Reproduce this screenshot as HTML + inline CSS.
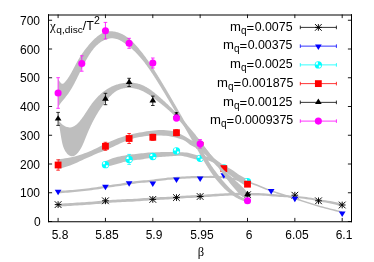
<!DOCTYPE html>
<html><head><meta charset="utf-8"><title>plot</title>
<style>
html,body{margin:0;padding:0;background:#fff}
body{width:374px;height:262px;position:relative;overflow:hidden;font-family:"Liberation Sans",sans-serif}
.t{position:absolute;will-change:transform;font-size:12px;line-height:14px;color:#000;white-space:nowrap}
.sub{font-size:9.6px;position:relative;top:3.6px;line-height:0}
.sup{font-size:9.6px;position:relative;top:-6px;line-height:0}
.pre{font-size:13.1px;margin-right:0.5px}
.pre .sub{font-size:10px;top:2.6px}
.eq{position:relative;top:1.2px}
.dig{font-size:12.4px}
.sy{font-family:"Liberation Serif",serif;font-size:12.5px}
</style></head><body>
<svg width="374" height="262" viewBox="0 0 374 262" style="position:absolute;left:0;top:0">
<rect width="374" height="262" fill="#fff"/>
<defs><clipPath id="cp"><rect x="48.5" y="14.5" width="303.0" height="207.0"/></clipPath></defs>
<polygon points="58.10,203.75 60.49,203.62 62.87,203.48 65.26,203.34 67.65,203.20 70.04,203.05 72.42,202.90 74.81,202.75 77.20,202.60 79.59,202.45 81.97,202.29 84.36,202.14 86.75,201.98 89.14,201.82 91.52,201.65 93.91,201.47 96.30,201.28 98.69,201.06 101.07,200.82 103.46,200.57 105.85,200.35 108.24,200.17 110.62,200.00 113.01,199.84 115.40,199.69 117.78,199.55 120.17,199.42 122.56,199.30 124.95,199.20 127.33,199.11 129.72,199.01 132.11,198.90 134.50,198.78 136.88,198.63 139.27,198.46 141.66,198.29 144.05,198.10 146.43,197.92 148.82,197.75 151.21,197.59 153.60,197.45 155.98,197.33 158.37,197.22 160.76,197.11 163.15,197.01 165.53,196.90 167.92,196.78 170.31,196.66 172.69,196.51 175.08,196.34 177.47,196.15 179.86,195.96 182.24,195.78 184.63,195.63 187.02,195.50 189.41,195.38 191.79,195.27 194.18,195.17 196.57,195.07 198.96,194.95 201.34,194.82 203.73,194.67 206.12,194.50 208.51,194.34 210.89,194.17 213.28,194.00 215.67,193.85 218.06,193.70 220.44,193.58 222.83,193.46 225.22,193.33 227.61,193.21 229.99,193.09 232.38,192.99 234.77,192.90 237.15,192.84 239.54,192.80 241.93,192.80 244.32,192.81 246.70,192.83 249.09,192.87 251.48,192.92 253.87,192.98 256.25,193.04 258.64,193.10 261.03,193.20 263.42,193.35 265.80,193.52 268.19,193.71 270.58,193.91 272.97,194.12 275.35,194.32 277.74,194.51 280.13,194.69 282.52,194.87 284.90,195.05 287.29,195.24 289.68,195.43 292.06,195.63 294.45,195.85 296.84,196.08 299.23,196.32 301.61,196.56 304.00,196.82 306.39,197.10 308.78,197.40 311.16,197.75 313.55,198.19 315.94,198.67 318.33,199.13 320.71,199.53 323.10,199.92 325.49,200.30 327.88,200.70 330.26,201.12 332.65,201.57 335.04,202.02 337.43,202.50 339.81,202.99 342.20,203.50 342.20,206.30 339.81,205.73 337.43,205.17 335.04,204.62 332.65,204.09 330.26,203.58 327.88,203.09 325.49,202.62 323.10,202.17 320.71,201.71 318.33,201.24 315.94,200.76 313.55,200.26 311.16,199.81 308.78,199.45 306.39,199.13 304.00,198.84 301.61,198.57 299.23,198.33 296.84,198.11 294.45,197.91 292.06,197.71 289.68,197.53 287.29,197.37 284.90,197.20 282.52,197.05 280.13,196.89 277.74,196.74 275.35,196.57 272.97,196.39 270.58,196.21 268.19,196.03 265.80,195.86 263.42,195.71 261.03,195.59 258.64,195.51 256.25,195.45 253.87,195.40 251.48,195.35 249.09,195.31 246.70,195.28 244.32,195.26 241.93,195.26 239.54,195.27 237.15,195.31 234.77,195.38 232.38,195.48 229.99,195.59 227.61,195.71 225.22,195.85 222.83,195.98 220.44,196.11 218.06,196.24 215.67,196.39 213.28,196.56 210.89,196.73 208.51,196.91 206.12,197.08 203.73,197.26 201.34,197.42 198.96,197.56 196.57,197.67 194.18,197.78 191.79,197.89 189.41,198.00 187.02,198.12 184.63,198.26 182.24,198.42 179.86,198.61 177.47,198.80 175.08,198.99 172.69,199.17 170.31,199.32 167.92,199.45 165.53,199.57 163.15,199.68 160.76,199.79 158.37,199.90 155.98,200.02 153.60,200.15 151.21,200.29 148.82,200.45 146.43,200.63 144.05,200.82 141.66,201.01 139.27,201.19 136.88,201.36 134.50,201.52 132.11,201.65 129.72,201.76 127.33,201.86 124.95,201.96 122.56,202.07 120.17,202.19 117.78,202.32 115.40,202.47 113.01,202.62 110.62,202.79 108.24,202.96 105.85,203.15 103.46,203.38 101.07,203.63 98.69,203.88 96.30,204.10 93.91,204.29 91.52,204.47 89.14,204.65 86.75,204.82 84.36,204.98 81.97,205.14 79.59,205.30 77.20,205.46 74.81,205.62 72.42,205.77 70.04,205.93 67.65,206.08 65.26,206.22 62.87,206.37 60.49,206.51 58.10,206.65" fill="#bebebe"/>

<path d="M54.75 204.60H61.45M58.10 201.25V207.95M54.75 201.25L61.45 207.95M54.75 207.95L61.45 201.25" stroke="#000" stroke-width="0.95" fill="none"/>

<path d="M102.10 200.80H108.80M105.45 197.45V204.15M102.10 197.45L108.80 204.15M102.10 204.15L108.80 197.45" stroke="#000" stroke-width="0.95" fill="none"/>

<path d="M149.45 199.40H156.15M152.80 196.05V202.75M149.45 196.05L156.15 202.75M149.45 202.75L156.15 196.05" stroke="#000" stroke-width="0.95" fill="none"/>

<path d="M173.12 197.60H179.82M176.47 194.25V200.95M173.12 194.25L179.82 200.95M173.12 200.95L179.82 194.25" stroke="#000" stroke-width="0.95" fill="none"/>

<path d="M196.80 196.50H203.50M200.15 193.15V199.85M196.80 193.15L203.50 199.85M196.80 199.85L203.50 193.15" stroke="#000" stroke-width="0.95" fill="none"/>

<path d="M244.15 194.70H250.85M247.50 191.35V198.05M244.15 191.35L250.85 198.05M244.15 198.05L250.85 191.35" stroke="#000" stroke-width="0.95" fill="none"/>

<path d="M291.50 195.20H298.20M294.85 191.85V198.55M291.50 191.85L298.20 198.55M291.50 198.55L298.20 191.85" stroke="#000" stroke-width="0.95" fill="none"/>

<path d="M315.18 200.80H321.88M318.53 197.45V204.15M315.18 197.45L321.88 204.15M315.18 204.15L321.88 197.45" stroke="#000" stroke-width="0.95" fill="none"/>

<path d="M338.85 205.00H345.55M342.20 201.65V208.35M338.85 201.65L345.55 208.35M338.85 208.35L345.55 201.65" stroke="#000" stroke-width="0.95" fill="none"/>
<polygon points="58.10,190.90 60.49,190.77 62.87,190.62 65.26,190.46 67.65,190.29 70.04,190.10 72.42,189.90 74.81,189.69 77.20,189.47 79.59,189.24 81.97,188.99 84.36,188.72 86.75,188.43 89.14,188.13 91.52,187.81 93.91,187.48 96.30,187.14 98.69,186.79 101.07,186.39 103.46,185.99 105.85,185.60 108.24,185.26 110.62,184.93 113.01,184.61 115.40,184.30 117.78,183.97 120.17,183.63 122.56,183.25 124.95,182.84 127.33,182.43 129.72,182.03 132.11,181.66 134.50,181.35 136.88,181.07 139.27,180.82 141.66,180.58 144.05,180.36 146.43,180.13 148.82,179.90 151.21,179.66 153.60,179.40 155.98,179.11 158.37,178.80 160.76,178.49 163.15,178.19 165.53,177.89 167.92,177.62 170.31,177.39 172.69,177.19 175.08,177.01 177.47,176.84 179.86,176.68 182.24,176.55 184.63,176.43 187.02,176.32 189.41,176.21 191.79,176.10 194.18,176.01 196.57,175.94 198.96,175.90 201.34,175.90 203.73,175.89 206.12,175.88 208.51,175.88 210.89,175.87 213.28,175.88 215.67,175.93 218.06,176.04 220.44,176.19 222.83,176.35 225.22,176.55 227.61,176.85 229.99,177.24 232.38,177.69 234.77,178.16 237.15,178.64 239.54,179.16 241.93,179.71 244.32,180.31 246.70,180.94 249.09,181.62 251.48,182.34 253.87,183.15 256.25,184.04 258.64,184.98 261.03,185.97 263.42,186.96 265.80,187.95 268.19,188.91 270.58,189.81 272.97,190.64 275.35,191.45 277.74,192.24 280.13,193.01 282.52,193.76 284.90,194.51 287.29,195.25 289.68,196.00 292.06,196.75 294.45,197.51 296.84,198.29 299.23,199.08 301.61,199.88 304.00,200.68 306.39,201.48 308.78,202.27 311.16,203.04 313.55,203.80 315.94,204.52 318.33,205.21 320.71,205.88 323.10,206.54 325.49,207.18 327.88,207.81 330.26,208.43 332.65,209.03 335.04,209.61 337.43,210.17 339.81,210.72 342.20,211.25 342.20,212.75 339.81,212.23 337.43,211.68 335.04,211.13 332.65,210.55 330.26,209.96 327.88,209.35 325.49,208.72 323.10,208.09 320.71,207.44 318.33,206.77 315.94,206.08 313.55,205.37 311.16,204.62 308.78,203.85 306.39,203.07 304.00,202.28 301.61,201.48 299.23,200.68 296.84,199.90 294.45,199.13 292.06,198.37 289.68,197.63 287.29,196.89 284.90,196.15 282.52,195.41 280.13,194.66 277.74,193.89 275.35,193.11 272.97,192.31 270.58,191.48 268.19,190.59 265.80,189.64 263.42,188.66 261.03,187.66 258.64,186.69 256.25,185.77 253.87,184.90 251.48,184.11 249.09,183.41 246.70,182.75 244.32,182.14 241.93,181.56 239.54,181.03 237.15,180.53 234.77,180.08 232.38,179.62 229.99,179.19 227.61,178.82 225.22,178.54 222.83,178.36 220.44,178.22 218.06,178.09 215.67,178.00 213.28,177.97 210.89,177.98 208.51,178.01 206.12,178.03 203.73,178.06 201.34,178.09 198.96,178.11 196.57,178.15 194.18,178.22 191.79,178.31 189.41,178.42 187.02,178.54 184.63,178.65 182.24,178.77 179.86,178.91 177.47,179.07 175.08,179.24 172.69,179.43 170.31,179.63 167.92,179.87 165.53,180.14 163.15,180.44 160.76,180.75 158.37,181.06 155.98,181.37 153.60,181.66 151.21,181.93 148.82,182.18 146.43,182.41 144.05,182.64 141.66,182.87 139.27,183.10 136.88,183.36 134.50,183.64 132.11,183.96 129.72,184.33 127.33,184.73 124.95,185.15 122.56,185.56 120.17,185.94 117.78,186.29 115.40,186.62 113.01,186.94 110.62,187.26 108.24,187.59 105.85,187.94 103.46,188.32 101.07,188.73 98.69,189.13 96.30,189.49 93.91,189.83 91.52,190.16 89.14,190.48 86.75,190.79 84.36,191.08 81.97,191.36 79.59,191.61 77.20,191.84 74.81,192.06 72.42,192.28 70.04,192.48 67.65,192.67 65.26,192.85 62.87,193.02 60.49,193.17 58.10,193.30" fill="#bebebe"/>

<path d="M54.75 189.84L61.45 189.84L58.10 195.35Z" fill="#0000ff"/>

<path d="M102.10 184.74L108.80 184.74L105.45 190.25Z" fill="#0000ff"/>

<path d="M125.78 181.34L132.48 181.34L129.13 186.85Z" fill="#0000ff"/>

<path d="M149.45 181.44L156.15 181.44L152.80 186.95Z" fill="#0000ff"/>

<path d="M173.12 177.44L179.82 177.44L176.47 182.95Z" fill="#0000ff"/>

<path d="M196.80 176.44L203.50 176.44L200.15 181.95Z" fill="#0000ff"/>

<path d="M220.47 173.24L227.17 173.24L223.82 178.75Z" fill="#0000ff"/>

<path d="M244.15 181.24L250.85 181.24L247.50 186.75Z" fill="#0000ff"/>

<path d="M267.83 188.94L274.53 188.94L271.18 194.45Z" fill="#0000ff"/>

<path d="M291.50 196.84L298.20 196.84L294.85 202.35Z" fill="#0000ff"/>

<path d="M338.85 211.44L345.55 211.44L342.20 216.95Z" fill="#0000ff"/>
<polygon points="105.30,161.30 107.10,160.46 108.90,159.69 110.70,158.98 112.50,158.35 114.30,157.79 116.10,157.31 117.90,156.87 119.70,156.47 121.50,156.07 123.30,155.70 125.10,155.38 126.90,155.10 128.70,154.84 130.50,154.60 132.30,154.37 134.10,154.15 135.90,153.94 137.70,153.75 139.50,153.55 141.30,153.35 143.10,153.13 144.90,152.91 146.70,152.73 148.50,152.59 150.30,152.51 152.10,152.44 153.90,152.38 155.70,152.33 157.50,152.27 159.30,152.21 161.10,152.12 162.90,152.02 164.70,152.00 166.50,152.00 168.30,152.00 170.10,152.00 171.90,152.00 173.70,152.02 175.50,152.06 177.30,152.12 179.10,152.17 180.90,152.23 182.70,152.31 184.50,152.41 186.30,152.56 188.10,152.86 189.90,153.27 191.70,153.70 193.50,154.23 195.30,154.75 197.10,155.20 198.90,155.60 200.70,155.90 202.50,156.12 204.30,156.34 206.10,156.53 207.90,156.76 209.70,157.15 211.50,157.86 213.30,158.74 215.10,159.72 216.90,160.93 218.70,162.20 220.50,163.42 222.30,164.66 224.10,165.87 225.90,167.01 227.70,168.10 229.50,169.19 231.30,170.33 233.10,171.50 234.90,172.64 236.70,173.70 238.50,174.67 240.30,175.60 242.10,176.55 243.90,177.53 245.70,178.51 247.50,179.50 247.50,182.80 245.70,182.01 243.90,181.19 242.10,180.35 240.30,179.49 238.50,178.61 236.70,177.68 234.90,176.66 233.10,175.53 231.30,174.35 229.50,173.18 227.70,172.02 225.90,170.85 224.10,169.67 222.30,168.45 220.50,167.22 218.70,166.00 216.90,164.73 215.10,163.52 213.30,162.54 211.50,161.64 209.70,160.94 207.90,160.58 206.10,160.39 204.30,160.23 202.50,160.05 200.70,159.87 198.90,159.69 197.10,159.51 195.30,159.27 193.50,158.81 191.70,158.23 189.90,157.73 188.10,157.26 186.30,156.83 184.50,156.43 182.70,156.03 180.90,155.75 179.10,155.71 177.30,155.77 175.50,155.88 173.70,156.01 171.90,156.15 170.10,156.27 168.30,156.39 166.50,156.52 164.70,156.65 162.90,156.77 161.10,156.88 159.30,157.02 157.50,157.18 155.70,157.37 153.90,157.58 152.10,157.81 150.30,158.05 148.50,158.29 146.70,158.55 144.90,158.84 143.10,159.14 141.30,159.42 139.50,159.66 137.70,159.86 135.90,160.05 134.10,160.25 132.30,160.48 130.50,160.73 128.70,161.00 126.90,161.31 125.10,161.65 123.30,162.08 121.50,162.63 119.70,163.19 117.90,163.70 116.10,164.21 114.30,164.71 112.50,165.19 110.70,165.66 108.90,166.12 107.10,166.57 105.30,167.00" fill="#bebebe"/>
<path d="M105.45 163.20V166.20M103.65 163.20H107.25M103.65 166.20H107.25" stroke="#00ffff" stroke-width="0.80" fill="none"/>
<circle cx="105.45" cy="164.70" r="3.65" fill="#00ffff"/><path d="M104.95 164.20L102.60 164.20A2.35 2.35 0 0 1 104.95 161.85Z" fill="#fff"/><path d="M105.95 165.20L108.30 165.20A2.35 2.35 0 0 1 105.95 167.55Z" fill="#fff"/>
<path d="M129.13 154.40V164.40M127.33 154.40H130.93M127.33 164.40H130.93" stroke="#00ffff" stroke-width="0.80" fill="none"/>
<circle cx="129.13" cy="159.40" r="3.65" fill="#00ffff"/><path d="M128.63 158.90L126.28 158.90A2.35 2.35 0 0 1 128.63 156.55Z" fill="#fff"/><path d="M129.63 159.90L131.98 159.90A2.35 2.35 0 0 1 129.63 162.25Z" fill="#fff"/>
<path d="M152.80 155.00V158.00M151.00 155.00H154.60M151.00 158.00H154.60" stroke="#00ffff" stroke-width="0.80" fill="none"/>
<circle cx="152.80" cy="156.50" r="3.65" fill="#00ffff"/><path d="M152.30 156.00L149.95 156.00A2.35 2.35 0 0 1 152.30 153.65Z" fill="#fff"/><path d="M153.30 157.00L155.65 157.00A2.35 2.35 0 0 1 153.30 159.35Z" fill="#fff"/>
<path d="M176.47 149.40V152.40M174.67 149.40H178.28M174.67 152.40H178.28" stroke="#00ffff" stroke-width="0.80" fill="none"/>
<circle cx="176.47" cy="150.90" r="3.65" fill="#00ffff"/><path d="M175.97 150.40L173.62 150.40A2.35 2.35 0 0 1 175.97 148.05Z" fill="#fff"/><path d="M176.97 151.40L179.32 151.40A2.35 2.35 0 0 1 176.97 153.75Z" fill="#fff"/>
<path d="M200.15 156.80V159.80M198.35 156.80H201.95M198.35 159.80H201.95" stroke="#00ffff" stroke-width="0.80" fill="none"/>
<circle cx="200.15" cy="158.30" r="3.65" fill="#00ffff"/><path d="M199.65 157.80L197.30 157.80A2.35 2.35 0 0 1 199.65 155.45Z" fill="#fff"/><path d="M200.65 158.80L203.00 158.80A2.35 2.35 0 0 1 200.65 161.15Z" fill="#fff"/>
<path d="M223.82 166.30V169.30M222.02 166.30H225.62M222.02 169.30H225.62" stroke="#00ffff" stroke-width="0.80" fill="none"/>
<circle cx="223.82" cy="167.80" r="3.65" fill="#00ffff"/><path d="M223.32 167.30L220.97 167.30A2.35 2.35 0 0 1 223.32 164.95Z" fill="#fff"/><path d="M224.32 168.30L226.67 168.30A2.35 2.35 0 0 1 224.32 170.65Z" fill="#fff"/>
<path d="M247.50 180.60V182.60M245.70 180.60H249.30M245.70 182.60H249.30" stroke="#00ffff" stroke-width="0.80" fill="none"/>
<circle cx="247.50" cy="181.60" r="3.65" fill="#00ffff"/><path d="M247.00 181.10L244.65 181.10A2.35 2.35 0 0 1 247.00 178.75Z" fill="#fff"/><path d="M248.00 182.10L250.35 182.10A2.35 2.35 0 0 1 248.00 184.45Z" fill="#fff"/>
<polygon points="58.10,159.30 60.50,159.05 62.89,158.73 65.29,158.37 67.69,157.98 70.09,157.54 72.48,157.04 74.88,156.47 77.28,155.83 79.68,155.12 82.07,154.28 84.47,153.37 86.87,152.41 89.27,151.44 91.66,150.42 94.06,149.36 96.46,148.26 98.86,147.10 101.25,145.86 103.65,144.62 106.05,143.42 108.45,142.29 110.84,141.19 113.24,140.15 115.64,139.19 118.04,138.29 120.43,137.45 122.83,136.67 125.23,135.97 127.63,135.35 130.02,134.73 132.42,134.10 134.82,133.56 137.22,133.07 139.61,132.61 142.01,132.19 144.41,131.78 146.81,131.36 149.20,130.98 151.60,130.68 154.00,130.46 156.40,130.25 158.79,130.09 161.19,130.00 163.59,130.04 165.99,130.23 168.38,130.51 170.78,130.85 173.18,131.35 175.58,132.13 177.97,133.05 180.37,134.07 182.77,135.29 185.17,136.59 187.56,137.99 189.96,139.42 192.36,140.71 194.76,141.89 197.15,143.06 199.55,144.25 201.95,145.64 204.35,147.31 206.74,149.76 209.14,152.66 211.54,155.43 213.94,157.90 216.33,159.97 218.73,161.82 221.13,163.48 223.53,164.96 225.92,166.34 228.32,167.74 230.72,169.12 233.12,170.57 235.51,172.14 237.91,173.91 240.31,176.20 242.71,178.47 245.10,180.01 247.50,181.00 247.50,186.80 245.10,185.38 242.71,183.95 240.31,182.50 237.91,181.06 235.51,179.41 233.12,177.59 230.72,175.74 228.32,173.93 225.92,172.22 223.53,170.43 221.13,168.46 218.73,166.39 216.33,164.21 213.94,162.04 211.54,159.87 209.14,157.70 206.74,155.49 204.35,153.46 201.95,151.76 199.55,150.21 197.15,148.75 194.76,147.36 192.36,146.11 189.96,144.70 187.56,142.70 185.17,140.89 182.77,139.80 180.37,138.95 177.97,138.21 175.58,137.50 173.18,136.88 170.78,136.45 168.38,136.12 165.99,135.84 163.59,135.65 161.19,135.60 158.79,135.60 156.40,135.60 154.00,135.60 151.60,135.61 149.20,135.75 146.81,136.01 144.41,136.33 142.01,136.65 139.61,137.06 137.22,137.56 134.82,138.12 132.42,138.75 130.02,139.51 127.63,140.36 125.23,141.28 122.83,142.24 120.43,143.30 118.04,144.40 115.64,145.54 113.24,146.67 110.84,147.81 108.45,148.95 106.05,150.02 103.65,151.01 101.25,151.94 98.86,152.87 96.46,153.84 94.06,154.86 91.66,155.91 89.27,156.97 86.87,158.04 84.47,159.12 82.07,160.21 79.68,161.30 77.28,162.44 74.88,163.57 72.48,164.61 70.09,165.51 67.69,166.34 65.29,167.11 62.89,167.83 60.50,168.49 58.10,169.10" fill="#bebebe"/>
<path d="M58.10 159.80V170.20M56.30 159.80H59.90M56.30 170.20H59.90" stroke="#ff0000" stroke-width="0.80" fill="none"/>
<rect x="54.70" y="161.60" width="6.80" height="6.80" fill="#ff0000"/>
<path d="M105.45 142.30V150.30M103.65 142.30H107.25M103.65 150.30H107.25" stroke="#ff0000" stroke-width="0.80" fill="none"/>
<rect x="102.05" y="142.90" width="6.80" height="6.80" fill="#ff0000"/>
<path d="M129.13 133.50V143.50M127.33 133.50H130.93M127.33 143.50H130.93" stroke="#ff0000" stroke-width="0.80" fill="none"/>
<rect x="125.73" y="135.10" width="6.80" height="6.80" fill="#ff0000"/>
<path d="M152.80 134.30V140.30M151.00 134.30H154.60M151.00 140.30H154.60" stroke="#ff0000" stroke-width="0.80" fill="none"/>
<rect x="149.40" y="133.90" width="6.80" height="6.80" fill="#ff0000"/>
<path d="M176.47 129.70V135.70M174.67 129.70H178.28M174.67 135.70H178.28" stroke="#ff0000" stroke-width="0.80" fill="none"/>
<rect x="173.07" y="129.30" width="6.80" height="6.80" fill="#ff0000"/>
<path d="M200.15 142.80V147.80M198.35 142.80H201.95M198.35 147.80H201.95" stroke="#ff0000" stroke-width="0.80" fill="none"/>
<rect x="196.75" y="141.90" width="6.80" height="6.80" fill="#ff0000"/>
<path d="M223.82 166.60V170.60M222.02 166.60H225.62M222.02 170.60H225.62" stroke="#ff0000" stroke-width="0.80" fill="none"/>
<rect x="220.42" y="165.20" width="6.80" height="6.80" fill="#ff0000"/>
<path d="M247.50 182.70V185.70M245.70 182.70H249.30M245.70 185.70H249.30" stroke="#ff0000" stroke-width="0.80" fill="none"/>
<rect x="244.10" y="180.80" width="6.80" height="6.80" fill="#ff0000"/>
<polygon points="58.50,120.20 58.84,120.75 59.21,121.28 59.62,121.81 60.05,122.33 60.51,122.83 61.00,123.32 61.51,123.79 62.04,124.25 62.59,124.68 63.16,125.08 63.74,125.47 64.34,125.82 64.94,126.14 65.56,126.44 66.18,126.69 66.80,126.92 67.43,127.10 68.06,127.25 68.68,127.35 69.30,127.41 69.91,127.43 70.52,127.39 71.11,127.31 71.70,127.19 72.28,127.02 72.85,126.81 73.41,126.56 73.96,126.28 74.50,125.97 75.04,125.62 75.56,125.24 76.08,124.84 76.59,124.41 77.09,123.96 77.58,123.49 78.07,123.00 78.54,122.50 79.01,121.98 79.47,121.45 79.92,120.91 80.37,120.36 80.81,119.81 81.23,119.25 81.66,118.70 82.07,118.14 82.48,117.57 82.88,117.01 83.28,116.44 83.67,115.88 84.06,115.31 84.44,114.74 84.82,114.17 85.20,113.61 85.57,113.04 85.95,112.47 86.31,111.90 86.68,111.33 87.05,110.76 87.42,110.20 87.78,109.63 88.15,109.07 88.52,108.51 88.88,107.95 89.25,107.39 89.62,106.83 90.00,106.28 90.38,105.73 90.76,105.18 91.14,104.64 91.53,104.10 91.92,103.56 92.32,103.03 92.73,102.50 93.13,101.97 93.55,101.45 93.96,100.94 94.39,100.43 94.82,99.92 95.25,99.42 95.69,98.92 96.13,98.43 96.58,97.94 97.03,97.46 97.49,96.98 97.95,96.51 98.42,96.04 98.90,95.58 99.38,95.13 99.86,94.68 100.35,94.24 100.84,93.80 101.34,93.37 101.84,92.95 102.35,92.53 102.87,92.12 103.38,91.72 103.91,91.32 104.44,90.93 104.97,90.55 105.51,90.18 106.06,89.81 106.60,89.45 107.16,89.10 107.72,88.75 108.28,88.42 108.85,88.09 109.43,87.77 110.01,87.46 110.59,87.16 111.18,86.86 111.78,86.58 112.38,86.30 112.98,86.03 113.59,85.77 114.21,85.52 114.83,85.28 115.46,85.05 116.09,84.83 116.72,84.62 117.37,84.42 118.01,84.22 118.66,84.04 119.32,83.87 119.98,83.71 120.65,83.56 121.32,83.42 122.00,83.29 122.68,83.17 123.36,83.06 124.05,82.97 124.74,82.88 125.43,82.81 126.12,82.74 126.81,82.69 127.50,82.65 128.20,82.63 128.89,82.61 129.59,82.61 130.28,82.62 130.97,82.64 131.65,82.67 132.34,82.72 133.02,82.78 133.70,82.85 134.38,82.94 135.05,83.04 135.72,83.15 136.38,83.27 137.03,83.41 137.68,83.57 138.32,83.73 138.96,83.91 139.59,84.11 140.22,84.31 140.83,84.53 141.45,84.76 142.05,85.00 142.66,85.26 143.25,85.52 143.84,85.80 144.43,86.08 145.01,86.38 145.59,86.69 146.16,87.00 146.73,87.33 147.29,87.66 147.85,88.00 148.41,88.35 148.96,88.71 149.50,89.07 150.05,89.44 150.59,89.82 151.13,90.20 151.66,90.59 152.20,90.99 152.73,91.39 153.25,91.79 153.78,92.20 154.30,92.62 154.82,93.03 155.34,93.46 155.85,93.88 156.37,94.31 156.88,94.74 157.39,95.17 157.90,95.60 158.41,96.04 158.92,96.47 159.43,96.91 159.93,97.35 160.44,97.79 160.94,98.23 161.45,98.67 161.95,99.12 162.45,99.56 162.95,100.01 163.45,100.46 163.94,100.91 164.44,101.36 164.94,101.81 165.43,102.27 165.92,102.72 166.41,103.18 166.90,103.64 167.39,104.10 167.88,104.56 168.37,105.02 168.85,105.48 169.34,105.95 169.82,106.41 170.30,106.88 170.78,107.35 171.26,107.81 171.74,108.28 172.22,108.76 172.69,109.23 173.17,109.70 173.64,110.18 174.11,110.65 174.59,111.13 175.06,111.61 175.52,112.08 175.99,112.56 176.46,113.05 176.92,113.53 177.38,114.01 177.85,114.49 178.31,114.98 178.76,115.47 179.22,115.95 179.68,116.44 180.13,116.93 180.59,117.42 181.04,117.91 181.49,118.40 181.94,118.89 182.39,119.39 182.84,119.88 183.28,120.38 183.73,120.87 184.17,121.37 184.61,121.87 185.06,122.37 185.50,122.87 185.93,123.37 186.37,123.87 186.81,124.37 187.24,124.88 187.68,125.38 188.11,125.88 188.54,126.39 188.97,126.90 189.40,127.40 189.83,127.91 190.26,128.42 190.69,128.93 191.11,129.44 191.54,129.96 191.96,130.47 192.39,130.98 192.81,131.50 193.23,132.01 193.65,132.53 194.07,133.04 194.49,133.56 194.90,134.08 195.32,134.60 195.74,135.12 196.15,135.64 196.57,136.16 196.98,136.68 197.39,137.21 197.80,137.73 198.22,138.25 198.63,138.78 199.04,139.31 199.45,139.83 199.85,140.36 200.26,140.89 200.67,141.42 201.08,141.95 201.48,142.48 201.89,143.01 202.29,143.54 202.70,144.07 203.10,144.61 203.51,145.14 203.91,145.67 204.31,146.21 204.72,146.74 205.12,147.28 205.52,147.81 205.93,148.34 206.33,148.88 206.73,149.41 207.14,149.95 207.54,150.48 207.95,151.02 208.35,151.55 208.76,152.08 209.17,152.61 209.57,153.15 209.98,153.68 210.39,154.21 210.80,154.74 211.21,155.27 211.62,155.79 212.04,156.32 212.45,156.85 212.87,157.37 213.28,157.89 213.70,158.42 214.12,158.94 214.54,159.46 214.97,159.97 215.39,160.49 215.82,161.00 216.25,161.52 216.68,162.03 217.11,162.54 217.55,163.05 217.98,163.55 218.42,164.05 218.86,164.56 219.30,165.06 219.75,165.55 220.20,166.05 220.65,166.54 221.10,167.03 221.56,167.52 222.02,168.00 222.48,168.48 222.94,168.96 223.41,169.44 223.88,169.91 224.35,170.38 224.83,170.85 225.31,171.32 225.79,171.78 226.27,172.24 226.76,172.70 227.25,173.16 227.74,173.61 228.23,174.06 228.72,174.52 229.22,174.97 229.71,175.41 230.21,175.86 230.71,176.31 231.21,176.75 231.71,177.20 232.21,177.64 232.71,178.09 233.21,178.53 233.71,178.98 234.21,179.42 234.71,179.86 235.21,180.31 235.71,180.75 236.21,181.20 236.71,181.65 237.20,182.10 237.70,182.54 238.19,182.99 238.68,183.45 239.17,183.90 239.66,184.35 240.15,184.81 240.63,185.27 241.11,185.73 241.59,186.19 242.07,186.66 242.54,187.13 243.01,187.60 243.47,188.07 243.94,188.55 244.40,189.03 244.85,189.52 245.30,190.00 245.75,190.50 246.20,190.99 246.63,191.49 247.07,191.99 247.50,192.50 247.50,198.00 246.75,198.03 246.03,197.99 245.35,197.89 244.70,197.73 244.07,197.52 243.48,197.27 242.91,196.97 242.36,196.63 241.83,196.25 241.31,195.85 240.82,195.42 240.33,194.97 239.86,194.50 239.39,194.02 238.93,193.54 238.47,193.05 238.02,192.55 237.56,192.06 237.11,191.56 236.67,191.07 236.22,190.57 235.78,190.07 235.34,189.57 234.90,189.06 234.46,188.56 234.03,188.05 233.59,187.55 233.16,187.04 232.74,186.53 232.31,186.01 231.89,185.50 231.46,184.99 231.04,184.47 230.63,183.95 230.21,183.44 229.80,182.92 229.39,182.39 228.98,181.87 228.57,181.35 228.16,180.82 227.76,180.29 227.35,179.76 226.95,179.23 226.55,178.70 226.16,178.17 225.76,177.64 225.37,177.10 224.98,176.56 224.58,176.03 224.19,175.49 223.80,174.95 223.41,174.41 223.02,173.88 222.63,173.34 222.24,172.81 221.84,172.27 221.44,171.74 221.04,171.21 220.64,170.69 220.23,170.16 219.82,169.64 219.41,169.13 218.99,168.62 218.56,168.11 218.13,167.61 217.70,167.11 217.25,166.62 216.81,166.13 216.35,165.65 215.89,165.17 215.43,164.70 214.97,164.23 214.50,163.76 214.03,163.29 213.55,162.83 213.08,162.36 212.60,161.90 212.12,161.44 211.64,160.98 211.16,160.52 210.68,160.06 210.20,159.60 209.72,159.14 209.25,158.68 208.77,158.21 208.30,157.74 207.83,157.27 207.36,156.80 206.90,156.32 206.44,155.84 205.99,155.36 205.54,154.87 205.09,154.38 204.65,153.88 204.21,153.38 203.77,152.88 203.34,152.37 202.91,151.86 202.49,151.35 202.07,150.83 201.65,150.31 201.23,149.79 200.82,149.27 200.41,148.74 200.00,148.21 199.60,147.68 199.20,147.15 198.80,146.61 198.40,146.07 198.00,145.53 197.61,144.99 197.21,144.45 196.82,143.91 196.43,143.36 196.04,142.82 195.65,142.27 195.27,141.72 194.88,141.17 194.49,140.62 194.11,140.08 193.73,139.53 193.34,138.98 192.96,138.42 192.57,137.87 192.19,137.32 191.81,136.77 191.42,136.23 191.04,135.68 190.65,135.13 190.27,134.58 189.88,134.03 189.49,133.49 189.10,132.94 188.71,132.40 188.32,131.86 187.93,131.32 187.53,130.78 187.14,130.24 186.74,129.71 186.34,129.17 185.94,128.64 185.53,128.11 185.13,127.59 184.72,127.06 184.31,126.54 183.89,126.02 183.47,125.51 183.05,125.00 182.63,124.49 182.20,123.98 181.77,123.48 181.34,122.97 180.91,122.48 180.47,121.98 180.03,121.49 179.59,121.00 179.14,120.51 178.69,120.02 178.24,119.54 177.79,119.06 177.33,118.58 176.87,118.11 176.41,117.64 175.95,117.16 175.48,116.70 175.01,116.23 174.54,115.76 174.07,115.30 173.60,114.84 173.12,114.38 172.64,113.93 172.16,113.47 171.67,113.02 171.19,112.57 170.70,112.12 170.21,111.68 169.72,111.23 169.22,110.79 168.73,110.35 168.23,109.91 167.73,109.47 167.23,109.03 166.73,108.60 166.22,108.16 165.72,107.73 165.21,107.30 164.70,106.87 164.19,106.44 163.67,106.01 163.16,105.59 162.64,105.16 162.12,104.74 161.61,104.32 161.09,103.89 160.56,103.47 160.04,103.05 159.52,102.63 158.99,102.22 158.46,101.80 157.94,101.38 157.41,100.97 156.88,100.55 156.35,100.14 155.81,99.72 155.28,99.31 154.74,98.90 154.21,98.49 153.67,98.09 153.13,97.69 152.58,97.29 152.04,96.89 151.49,96.50 150.94,96.11 150.39,95.73 149.84,95.35 149.28,94.98 148.72,94.61 148.16,94.25 147.59,93.90 147.03,93.55 146.45,93.21 145.88,92.88 145.30,92.55 144.72,92.23 144.13,91.92 143.54,91.62 142.95,91.33 142.35,91.05 141.75,90.78 141.15,90.52 140.54,90.26 139.92,90.02 139.31,89.79 138.68,89.57 138.06,89.37 137.42,89.17 136.78,88.99 136.14,88.82 135.49,88.67 134.84,88.53 134.18,88.40 133.52,88.28 132.85,88.18 132.19,88.10 131.51,88.02 130.84,87.97 130.17,87.93 129.49,87.90 128.82,87.89 128.14,87.89 127.47,87.91 126.79,87.95 126.12,88.00 125.45,88.07 124.79,88.15 124.13,88.26 123.47,88.37 122.82,88.51 122.17,88.66 121.53,88.84 120.90,89.03 120.27,89.23 119.65,89.46 119.04,89.70 118.44,89.96 117.84,90.25 117.26,90.55 116.69,90.86 116.12,91.20 115.57,91.56 115.03,91.93 114.49,92.32 113.96,92.72 113.45,93.13 112.94,93.56 112.43,94.00 111.94,94.46 111.45,94.92 110.97,95.39 110.50,95.88 110.03,96.37 109.57,96.87 109.11,97.37 108.66,97.88 108.22,98.40 107.78,98.92 107.34,99.44 106.91,99.97 106.48,100.49 106.06,101.02 105.64,101.55 105.22,102.08 104.81,102.62 104.40,103.15 103.99,103.69 103.59,104.23 103.20,104.77 102.80,105.31 102.41,105.85 102.02,106.40 101.64,106.94 101.26,107.49 100.88,108.04 100.51,108.59 100.14,109.14 99.77,109.70 99.41,110.25 99.05,110.81 98.69,111.37 98.34,111.93 97.99,112.49 97.64,113.06 97.30,113.63 96.96,114.19 96.62,114.77 96.28,115.34 95.95,115.91 95.62,116.49 95.30,117.07 94.97,117.65 94.65,118.23 94.34,118.81 94.02,119.40 93.71,119.99 93.40,120.58 93.09,121.17 92.79,121.76 92.49,122.36 92.19,122.95 91.89,123.55 91.60,124.15 91.31,124.76 91.02,125.36 90.73,125.96 90.45,126.57 90.17,127.18 89.89,127.79 89.61,128.40 89.34,129.01 89.06,129.62 88.79,130.23 88.52,130.85 88.25,131.46 87.99,132.08 87.72,132.70 87.46,133.32 87.20,133.93 86.94,134.55 86.68,135.17 86.43,135.79 86.17,136.41 85.92,137.04 85.67,137.66 85.42,138.28 85.17,138.90 84.92,139.52 84.67,140.15 84.43,140.77 84.18,141.39 83.93,142.01 83.67,142.63 83.41,143.25 83.15,143.86 82.88,144.47 82.60,145.09 82.31,145.69 82.02,146.30 81.72,146.90 81.40,147.50 81.07,148.10 80.73,148.69 80.38,149.27 80.01,149.85 79.63,150.43 79.23,151.00 78.81,151.57 78.37,152.13 77.92,152.67 77.45,153.20 76.96,153.71 76.46,154.19 75.95,154.64 75.43,155.05 74.90,155.41 74.37,155.73 73.82,155.98 73.27,156.18 72.72,156.31 72.17,156.36 71.61,156.34 71.06,156.24 70.51,156.07 69.96,155.84 69.42,155.55 68.89,155.20 68.38,154.81 67.88,154.38 67.39,153.90 66.93,153.40 66.48,152.87 66.06,152.32 65.67,151.75 65.29,151.18 64.95,150.58 64.62,149.98 64.32,149.36 64.03,148.74 63.77,148.10 63.52,147.46 63.29,146.81 63.07,146.15 62.87,145.49 62.68,144.82 62.50,144.15 62.34,143.48 62.18,142.80 62.04,142.13 61.90,141.45 61.76,140.77 61.64,140.10 61.51,139.43 61.39,138.76 61.27,138.10 61.16,137.44 61.04,136.78 60.93,136.12 60.82,135.47 60.72,134.82 60.61,134.17 60.51,133.52 60.40,132.88 60.30,132.23 60.20,131.59 60.10,130.94 60.00,130.30 59.90,129.65 59.81,129.00 59.71,128.36 59.61,127.71 59.51,127.06 59.41,126.41 59.32,125.75 59.22,125.10 59.12,124.44 59.02,123.77 58.92,123.11 58.82,122.44 58.71,121.76 58.61,121.08 58.50,120.40" fill="#bebebe"/>
<polygon points="58.30,78.70 58.50,79.25 58.77,79.87 59.11,80.53 59.51,81.20 59.95,81.86 60.42,82.47 60.92,83.00 61.43,83.42 61.94,83.71 62.45,83.83 62.94,83.78 63.42,83.58 63.89,83.26 64.34,82.85 64.79,82.37 65.22,81.87 65.65,81.35 66.06,80.83 66.47,80.30 66.88,79.76 67.27,79.22 67.65,78.67 68.03,78.11 68.41,77.55 68.77,76.98 69.14,76.41 69.49,75.83 69.84,75.25 70.19,74.66 70.53,74.08 70.86,73.48 71.20,72.89 71.53,72.29 71.85,71.69 72.18,71.09 72.50,70.49 72.82,69.89 73.14,69.29 73.45,68.68 73.77,68.08 74.08,67.48 74.40,66.88 74.71,66.28 75.03,65.68 75.34,65.09 75.66,64.49 75.98,63.90 76.30,63.32 76.62,62.73 76.94,62.15 77.27,61.58 77.59,61.00 77.92,60.43 78.26,59.86 78.59,59.30 78.93,58.73 79.27,58.17 79.61,57.62 79.95,57.06 80.30,56.51 80.65,55.96 81.01,55.41 81.36,54.86 81.72,54.32 82.09,53.78 82.46,53.24 82.83,52.70 83.20,52.17 83.58,51.64 83.96,51.10 84.35,50.58 84.74,50.05 85.14,49.52 85.54,49.00 85.94,48.47 86.35,47.95 86.76,47.43 87.18,46.91 87.60,46.40 88.03,45.88 88.47,45.37 88.90,44.85 89.35,44.34 89.80,43.83 90.25,43.32 90.71,42.81 91.17,42.30 91.65,41.79 92.12,41.28 92.60,40.78 93.09,40.28 93.59,39.79 94.09,39.30 94.59,38.82 95.10,38.35 95.62,37.88 96.14,37.43 96.67,36.98 97.20,36.55 97.74,36.12 98.29,35.71 98.84,35.31 99.40,34.92 99.96,34.55 100.53,34.20 101.10,33.86 101.68,33.54 102.27,33.24 102.86,32.95 103.46,32.69 104.06,32.44 104.67,32.22 105.29,32.02 105.91,31.84 106.54,31.69 107.17,31.56 107.81,31.45 108.45,31.37 109.10,31.31 109.75,31.27 110.40,31.25 111.05,31.25 111.71,31.27 112.37,31.32 113.02,31.38 113.68,31.46 114.33,31.56 114.99,31.68 115.64,31.81 116.28,31.96 116.93,32.13 117.57,32.31 118.20,32.51 118.83,32.73 119.46,32.96 120.08,33.20 120.69,33.46 121.29,33.73 121.89,34.01 122.48,34.31 123.07,34.61 123.64,34.93 124.22,35.27 124.78,35.61 125.34,35.96 125.90,36.32 126.44,36.70 126.99,37.08 127.52,37.47 128.06,37.88 128.58,38.29 129.10,38.71 129.62,39.13 130.13,39.57 130.64,40.01 131.14,40.46 131.64,40.92 132.13,41.38 132.62,41.85 133.10,42.33 133.58,42.80 134.05,43.29 134.52,43.78 134.99,44.27 135.45,44.77 135.91,45.27 136.37,45.78 136.82,46.29 137.27,46.80 137.71,47.31 138.16,47.82 138.60,48.34 139.03,48.86 139.47,49.38 139.90,49.90 140.32,50.42 140.75,50.94 141.17,51.46 141.59,51.99 142.01,52.52 142.42,53.05 142.83,53.58 143.24,54.11 143.65,54.64 144.05,55.17 144.45,55.71 144.85,56.24 145.25,56.78 145.65,57.32 146.04,57.85 146.43,58.39 146.82,58.94 147.20,59.48 147.59,60.02 147.97,60.56 148.35,61.11 148.73,61.66 149.11,62.20 149.48,62.75 149.86,63.30 150.23,63.85 150.60,64.40 150.97,64.95 151.34,65.51 151.70,66.06 152.07,66.61 152.43,67.17 152.79,67.72 153.15,68.28 153.51,68.84 153.87,69.40 154.23,69.96 154.59,70.52 154.94,71.08 155.30,71.64 155.65,72.20 156.00,72.76 156.36,73.32 156.71,73.89 157.06,74.45 157.41,75.01 157.76,75.58 158.11,76.15 158.45,76.71 158.80,77.28 159.15,77.85 159.50,78.41 159.84,78.98 160.19,79.55 160.54,80.12 160.88,80.69 161.23,81.26 161.57,81.83 161.92,82.40 162.26,82.97 162.61,83.54 162.95,84.11 163.30,84.68 163.64,85.25 163.98,85.83 164.33,86.40 164.67,86.97 165.01,87.55 165.35,88.12 165.70,88.70 166.04,89.27 166.38,89.84 166.72,90.42 167.06,91.00 167.40,91.57 167.74,92.15 168.08,92.72 168.42,93.30 168.76,93.88 169.10,94.45 169.44,95.03 169.78,95.61 170.11,96.19 170.45,96.76 170.79,97.34 171.13,97.92 171.46,98.50 171.80,99.08 172.14,99.66 172.47,100.24 172.81,100.81 173.15,101.39 173.48,101.97 173.82,102.55 174.15,103.13 174.49,103.71 174.82,104.29 175.16,104.87 175.49,105.45 175.83,106.03 176.16,106.62 176.49,107.20 176.83,107.78 177.16,108.36 177.49,108.94 177.82,109.52 178.16,110.10 178.49,110.68 178.82,111.26 179.15,111.84 179.48,112.42 179.82,113.01 180.15,113.59 180.48,114.17 180.81,114.75 181.14,115.33 181.47,115.91 181.80,116.49 182.13,117.07 182.46,117.66 182.79,118.24 183.12,118.82 183.44,119.40 183.77,119.98 184.10,120.56 184.43,121.14 184.76,121.72 185.09,122.30 185.42,122.88 185.75,123.46 186.08,124.04 186.41,124.62 186.74,125.20 187.07,125.77 187.40,126.35 187.73,126.93 188.06,127.51 188.40,128.08 188.73,128.66 189.07,129.23 189.40,129.81 189.74,130.38 190.07,130.95 190.41,131.52 190.75,132.09 191.09,132.66 191.43,133.23 191.78,133.80 192.12,134.37 192.47,134.93 192.81,135.50 193.16,136.06 193.51,136.63 193.86,137.19 194.22,137.75 194.57,138.31 194.93,138.87 195.28,139.43 195.64,139.99 196.00,140.54 196.36,141.10 196.71,141.66 197.07,142.22 197.43,142.77 197.79,143.33 198.14,143.89 198.50,144.45 198.85,145.01 199.21,145.57 199.56,146.13 199.91,146.69 200.26,147.26 200.61,147.82 200.95,148.39 201.30,148.96 201.64,149.53 201.98,150.10 202.31,150.67 202.65,151.24 202.99,151.81 203.32,152.39 203.66,152.96 203.99,153.54 204.32,154.11 204.66,154.68 204.99,155.26 205.33,155.83 205.66,156.40 206.00,156.98 206.34,157.55 206.68,158.12 207.02,158.69 207.36,159.25 207.70,159.82 208.05,160.38 208.40,160.95 208.75,161.51 209.10,162.06 209.46,162.62 209.82,163.18 210.18,163.73 210.54,164.28 210.91,164.83 211.27,165.38 211.64,165.92 212.02,166.47 212.39,167.01 212.77,167.55 213.15,168.09 213.53,168.63 213.92,169.17 214.30,169.71 214.69,170.24 215.08,170.78 215.48,171.31 215.87,171.84 216.27,172.37 216.67,172.90 217.07,173.43 217.48,173.96 217.89,174.49 218.29,175.01 218.70,175.54 219.12,176.06 219.53,176.59 219.95,177.11 220.37,177.64 220.79,178.16 221.21,178.68 221.64,179.21 222.06,179.73 222.49,180.25 222.93,180.76 223.36,181.28 223.80,181.80 224.24,182.31 224.68,182.82 225.12,183.33 225.57,183.83 226.02,184.33 226.48,184.83 226.93,185.33 227.39,185.82 227.86,186.31 228.32,186.79 228.79,187.27 229.27,187.75 229.75,188.22 230.23,188.68 230.71,189.15 231.20,189.60 231.70,190.05 232.19,190.49 232.70,190.93 233.20,191.36 233.71,191.79 234.23,192.21 234.75,192.62 235.27,193.02 235.80,193.42 236.33,193.81 236.87,194.19 237.42,194.57 237.96,194.93 238.52,195.29 239.08,195.64 239.64,195.98 240.21,196.31 240.79,196.63 241.37,196.95 241.95,197.25 242.54,197.54 243.14,197.82 243.75,198.10 244.36,198.36 244.97,198.61 245.59,198.85 246.22,199.08 246.86,199.30 247.50,199.50 247.50,202.30 246.84,202.12 246.19,201.93 245.54,201.73 244.90,201.53 244.26,201.31 243.62,201.08 243.00,200.85 242.37,200.61 241.75,200.35 241.13,200.09 240.52,199.82 239.92,199.55 239.32,199.26 238.72,198.97 238.13,198.67 237.54,198.36 236.95,198.04 236.37,197.72 235.80,197.39 235.23,197.05 234.66,196.70 234.10,196.35 233.54,195.99 232.99,195.62 232.44,195.25 231.90,194.87 231.35,194.48 230.82,194.09 230.29,193.69 229.76,193.28 229.23,192.87 228.71,192.46 228.20,192.03 227.69,191.61 227.18,191.17 226.67,190.74 226.17,190.29 225.68,189.84 225.19,189.39 224.70,188.93 224.21,188.47 223.73,188.00 223.26,187.53 222.79,187.05 222.32,186.57 221.85,186.09 221.39,185.60 220.93,185.10 220.48,184.61 220.03,184.11 219.58,183.61 219.14,183.10 218.70,182.59 218.26,182.08 217.83,181.56 217.40,181.04 216.98,180.52 216.56,180.00 216.14,179.47 215.72,178.94 215.31,178.41 214.91,177.88 214.50,177.34 214.10,176.81 213.70,176.27 213.31,175.73 212.92,175.18 212.53,174.64 212.14,174.09 211.76,173.55 211.38,173.00 211.00,172.45 210.63,171.90 210.26,171.34 209.89,170.79 209.52,170.23 209.16,169.67 208.79,169.11 208.43,168.55 208.07,167.99 207.72,167.42 207.37,166.86 207.01,166.29 206.66,165.73 206.32,165.16 205.97,164.59 205.62,164.02 205.28,163.45 204.94,162.88 204.60,162.31 204.26,161.73 203.92,161.16 203.59,160.58 203.25,160.01 202.92,159.43 202.58,158.85 202.25,158.27 201.92,157.70 201.59,157.12 201.26,156.54 200.93,155.96 200.60,155.38 200.28,154.80 199.95,154.22 199.62,153.64 199.30,153.05 198.97,152.47 198.64,151.89 198.32,151.31 197.99,150.73 197.66,150.14 197.34,149.56 197.01,148.98 196.68,148.40 196.36,147.82 196.03,147.24 195.70,146.65 195.37,146.07 195.04,145.49 194.71,144.91 194.38,144.33 194.05,143.75 193.72,143.17 193.39,142.59 193.06,142.01 192.73,141.43 192.40,140.85 192.07,140.27 191.73,139.69 191.40,139.11 191.07,138.53 190.74,137.95 190.40,137.37 190.07,136.79 189.73,136.21 189.40,135.64 189.06,135.06 188.73,134.48 188.39,133.90 188.06,133.32 187.72,132.74 187.39,132.17 187.05,131.59 186.72,131.01 186.38,130.43 186.04,129.86 185.71,129.28 185.37,128.70 185.03,128.12 184.70,127.55 184.36,126.97 184.02,126.39 183.68,125.81 183.35,125.24 183.01,124.66 182.67,124.08 182.33,123.51 182.00,122.93 181.66,122.35 181.32,121.78 180.98,121.20 180.65,120.63 180.31,120.05 179.97,119.47 179.63,118.90 179.30,118.32 178.96,117.74 178.62,117.17 178.28,116.59 177.95,116.02 177.61,115.44 177.27,114.87 176.94,114.29 176.60,113.71 176.26,113.14 175.92,112.56 175.59,111.99 175.25,111.41 174.91,110.84 174.58,110.26 174.24,109.68 173.90,109.11 173.57,108.53 173.23,107.96 172.89,107.38 172.55,106.81 172.22,106.23 171.88,105.66 171.54,105.08 171.20,104.51 170.87,103.94 170.53,103.36 170.19,102.79 169.85,102.21 169.51,101.64 169.17,101.07 168.84,100.49 168.50,99.92 168.16,99.35 167.82,98.77 167.48,98.20 167.14,97.63 166.80,97.05 166.45,96.48 166.11,95.91 165.77,95.34 165.43,94.77 165.09,94.19 164.74,93.62 164.40,93.05 164.06,92.48 163.71,91.91 163.37,91.34 163.02,90.77 162.68,90.20 162.33,89.63 161.98,89.06 161.64,88.49 161.29,87.92 160.94,87.35 160.59,86.79 160.24,86.22 159.89,85.65 159.54,85.08 159.19,84.51 158.84,83.95 158.49,83.38 158.13,82.81 157.78,82.25 157.42,81.68 157.07,81.12 156.71,80.55 156.36,79.99 156.00,79.42 155.64,78.86 155.28,78.29 154.92,77.73 154.56,77.17 154.20,76.60 153.84,76.04 153.48,75.48 153.11,74.92 152.75,74.36 152.38,73.80 152.01,73.24 151.64,72.68 151.27,72.13 150.90,71.57 150.52,71.02 150.15,70.46 149.77,69.91 149.39,69.36 149.01,68.81 148.63,68.26 148.24,67.72 147.86,67.17 147.47,66.63 147.08,66.09 146.69,65.55 146.29,65.01 145.89,64.47 145.49,63.94 145.09,63.40 144.69,62.87 144.28,62.34 143.87,61.82 143.46,61.29 143.04,60.77 142.62,60.25 142.20,59.73 141.78,59.22 141.35,58.70 140.92,58.19 140.49,57.68 140.05,57.18 139.61,56.68 139.17,56.18 138.72,55.68 138.28,55.18 137.82,54.69 137.37,54.21 136.91,53.72 136.44,53.24 135.97,52.76 135.50,52.28 135.03,51.81 134.55,51.34 134.07,50.88 133.58,50.41 133.09,49.96 132.59,49.50 132.09,49.05 131.59,48.60 131.08,48.16 130.57,47.72 130.05,47.28 129.53,46.85 129.00,46.42 128.47,46.00 127.94,45.58 127.39,45.16 126.85,44.75 126.30,44.34 125.74,43.94 125.18,43.54 124.62,43.15 124.05,42.76 123.47,42.39 122.90,42.02 122.31,41.67 121.73,41.32 121.14,40.99 120.54,40.67 119.94,40.37 119.34,40.09 118.74,39.82 118.13,39.57 117.52,39.33 116.91,39.12 116.29,38.94 115.67,38.77 115.05,38.63 114.43,38.51 113.81,38.42 113.18,38.36 112.55,38.32 111.92,38.31 111.29,38.33 110.66,38.37 110.03,38.44 109.40,38.53 108.77,38.64 108.15,38.78 107.53,38.94 106.91,39.12 106.29,39.32 105.68,39.55 105.07,39.79 104.46,40.05 103.86,40.33 103.27,40.63 102.68,40.94 102.10,41.27 101.53,41.62 100.97,41.98 100.41,42.36 99.86,42.75 99.32,43.16 98.79,43.57 98.27,44.00 97.76,44.44 97.26,44.89 96.76,45.36 96.28,45.83 95.80,46.31 95.33,46.81 94.87,47.31 94.42,47.82 93.97,48.34 93.53,48.86 93.10,49.40 92.68,49.94 92.26,50.48 91.85,51.03 91.45,51.59 91.05,52.15 90.66,52.72 90.28,53.29 89.90,53.86 89.52,54.44 89.15,55.02 88.79,55.60 88.43,56.18 88.08,56.77 87.73,57.35 87.38,57.94 87.04,58.52 86.71,59.11 86.37,59.70 86.04,60.28 85.72,60.87 85.40,61.46 85.08,62.05 84.76,62.64 84.45,63.23 84.14,63.82 83.84,64.41 83.53,65.00 83.23,65.59 82.93,66.18 82.63,66.77 82.33,67.36 82.04,67.95 81.75,68.55 81.45,69.14 81.16,69.73 80.87,70.32 80.58,70.92 80.29,71.51 80.01,72.10 79.72,72.70 79.43,73.29 79.14,73.89 78.86,74.48 78.57,75.07 78.28,75.67 77.99,76.26 77.70,76.86 77.41,77.45 77.11,78.05 76.82,78.64 76.52,79.24 76.23,79.83 75.93,80.43 75.63,81.02 75.32,81.62 75.02,82.21 74.71,82.80 74.40,83.39 74.09,83.98 73.77,84.57 73.45,85.16 73.13,85.74 72.80,86.33 72.47,86.91 72.14,87.49 71.80,88.07 71.46,88.64 71.12,89.21 70.77,89.78 70.42,90.35 70.06,90.91 69.70,91.47 69.33,92.03 68.96,92.59 68.58,93.14 68.20,93.68 67.82,94.22 67.42,94.76 67.02,95.30 66.62,95.83 66.21,96.35 65.79,96.87 65.37,97.39 64.95,97.91 64.53,98.42 64.10,98.93 63.68,99.45 63.25,99.96 62.83,100.47 62.41,100.99 61.99,101.51 61.58,102.03 61.18,102.55 60.78,103.08 60.39,103.62 60.02,104.16 59.65,104.71 59.29,105.27 58.95,105.84 58.62,106.41 58.30,107.00" fill="#bebebe"/>
<path d="M58.10 112.40V125.40M56.30 112.40H59.90M56.30 125.40H59.90" stroke="#000" stroke-width="0.80" fill="none"/>
<path d="M54.75 120.58L61.45 120.58L58.10 115.15Z" fill="#000"/>
<path d="M105.45 93.30V104.70M103.65 93.30H107.25M103.65 104.70H107.25" stroke="#000" stroke-width="0.80" fill="none"/>
<path d="M102.10 100.67L108.80 100.67L105.45 95.25Z" fill="#000"/>
<path d="M129.13 78.30V86.50M127.33 78.30H130.93M127.33 86.50H130.93" stroke="#000" stroke-width="0.80" fill="none"/>
<path d="M125.78 84.08L132.48 84.08L129.13 78.65Z" fill="#000"/>
<path d="M152.80 96.10V105.50M151.00 96.10H154.60M151.00 105.50H154.60" stroke="#000" stroke-width="0.80" fill="none"/>
<path d="M149.45 102.47L156.15 102.47L152.80 97.05Z" fill="#000"/>
<path d="M176.47 112.60V118.60M174.67 112.60H178.28M174.67 118.60H178.28" stroke="#000" stroke-width="0.80" fill="none"/>
<path d="M173.12 117.27L179.82 117.27L176.47 111.85Z" fill="#000"/>
<path d="M247.50 193.10V196.10M245.70 193.10H249.30M245.70 196.10H249.30" stroke="#000" stroke-width="0.80" fill="none"/>
<path d="M244.15 196.28L250.85 196.28L247.50 190.85Z" fill="#000"/>
<path d="M58.10 77.70V108.30M56.30 77.70H59.90M56.30 108.30H59.90" stroke="#ff00ff" stroke-width="0.80" fill="none"/>
<circle cx="58.10" cy="93.00" r="3.55" fill="#ff00ff"/>
<path d="M81.78 55.80V71.20M79.98 55.80H83.58M79.98 71.20H83.58" stroke="#ff00ff" stroke-width="0.80" fill="none"/>
<circle cx="81.78" cy="63.50" r="3.55" fill="#ff00ff"/>
<path d="M105.45 22.40V39.00M103.65 22.40H107.25M103.65 39.00H107.25" stroke="#ff00ff" stroke-width="0.80" fill="none"/>
<circle cx="105.45" cy="30.70" r="3.55" fill="#ff00ff"/>
<path d="M129.13 38.30V48.30M127.33 38.30H130.93M127.33 48.30H130.93" stroke="#ff00ff" stroke-width="0.80" fill="none"/>
<circle cx="129.13" cy="43.30" r="3.55" fill="#ff00ff"/>
<path d="M152.80 58.00V68.00M151.00 58.00H154.60M151.00 68.00H154.60" stroke="#ff00ff" stroke-width="0.80" fill="none"/>
<circle cx="152.80" cy="63.00" r="3.55" fill="#ff00ff"/>
<path d="M176.47 115.00V121.00M174.67 115.00H178.28M174.67 121.00H178.28" stroke="#ff00ff" stroke-width="0.80" fill="none"/>
<circle cx="176.47" cy="118.00" r="3.55" fill="#ff00ff"/>
<path d="M200.15 139.60V148.00M198.35 139.60H201.95M198.35 148.00H201.95" stroke="#ff00ff" stroke-width="0.80" fill="none"/>
<circle cx="200.15" cy="143.80" r="3.55" fill="#ff00ff"/>
<path d="M247.50 199.30V202.30M245.70 199.30H249.30M245.70 202.30H249.30" stroke="#ff00ff" stroke-width="0.80" fill="none"/>
<circle cx="247.50" cy="200.80" r="3.55" fill="#ff00ff"/>
<path d="M48.5 14.2V222.2M351.5 14.2V222.2" stroke="#000" stroke-width="1" fill="none"/>
<path d="M48 15.0H352" stroke="#000" stroke-width="1.05" fill="none"/>
<path d="M48 221.75H352" stroke="#000" stroke-width="1.05" fill="none"/>
<path d="M48.50 221.50h3.60M351.50 221.50h-3.60M48.50 192.75h3.60M351.50 192.75h-3.60M48.50 164.00h3.60M351.50 164.00h-3.60M48.50 135.25h3.60M351.50 135.25h-3.60M48.50 106.50h3.60M351.50 106.50h-3.60M48.50 77.75h3.60M351.50 77.75h-3.60M48.50 49.00h3.60M351.50 49.00h-3.60M48.50 20.25h3.60M351.50 20.25h-3.60M58.10 221.50v-3.60M58.10 14.50v3.60M105.45 221.50v-3.60M105.45 14.50v3.60M152.80 221.50v-3.60M152.80 14.50v3.60M200.15 221.50v-3.60M200.15 14.50v3.60M247.50 221.50v-3.60M247.50 14.50v3.60M294.85 221.50v-3.60M294.85 14.50v3.60M342.20 221.50v-3.60M342.20 14.50v3.60" stroke="#000" stroke-width="0.9" fill="none"/>
<path d="M300.30 27.40H336.40M300.30 25.60v3.6M336.40 25.60v3.6" stroke="#000" stroke-width="0.8" fill="none"/>
<path d="M315.00 27.40H321.70M318.35 24.05V30.75M315.00 24.05L321.70 30.75M315.00 30.75L321.70 24.05" stroke="#000" stroke-width="0.95" fill="none"/>
<path d="M300.30 46.14H336.40M300.30 44.34v3.6M336.40 44.34v3.6" stroke="#0000ff" stroke-width="0.8" fill="none"/>
<path d="M315.00 44.38L321.70 44.38L318.35 49.89Z" fill="#0000ff"/>
<path d="M300.30 64.88H336.40M300.30 63.08v3.6M336.40 63.08v3.6" stroke="#00ffff" stroke-width="0.8" fill="none"/>
<circle cx="318.35" cy="64.88" r="3.65" fill="#00ffff"/><path d="M317.85 64.38L315.50 64.38A2.35 2.35 0 0 1 317.85 62.03Z" fill="#fff"/><path d="M318.85 65.38L321.20 65.38A2.35 2.35 0 0 1 318.85 67.73Z" fill="#fff"/>
<path d="M300.30 83.62H336.40M300.30 81.82v3.6M336.40 81.82v3.6" stroke="#ff0000" stroke-width="0.8" fill="none"/>
<rect x="314.95" y="80.22" width="6.80" height="6.80" fill="#ff0000"/>
<path d="M300.30 102.36H336.40M300.30 100.56v3.6M336.40 100.56v3.6" stroke="#000" stroke-width="0.8" fill="none"/>
<path d="M315.00 104.03L321.70 104.03L318.35 98.61Z" fill="#000"/>
<path d="M300.30 121.10H336.40M300.30 119.30v3.6M336.40 119.30v3.6" stroke="#ff00ff" stroke-width="0.8" fill="none"/>
<circle cx="318.35" cy="121.10" r="3.55" fill="#ff00ff"/>
</svg>
<div class="t" style="right:333.7px;top:215.1px">0</div>
<div class="t" style="right:333.7px;top:186.3px">100</div>
<div class="t" style="right:333.7px;top:157.6px">200</div>
<div class="t" style="right:333.7px;top:128.8px">300</div>
<div class="t" style="right:333.7px;top:100.1px">400</div>
<div class="t" style="right:333.7px;top:71.3px">500</div>
<div class="t" style="right:333.7px;top:42.6px">600</div>
<div class="t" style="right:333.7px;top:13.9px">700</div>
<div class="t" style="left:59.7px;top:227.6px;width:40px;margin-left:-20px;text-align:center">5.8</div>
<div class="t" style="left:107.0px;top:227.6px;width:40px;margin-left:-20px;text-align:center">5.85</div>
<div class="t" style="left:154.4px;top:227.6px;width:40px;margin-left:-20px;text-align:center">5.9</div>
<div class="t" style="left:201.8px;top:227.6px;width:40px;margin-left:-20px;text-align:center">5.95</div>
<div class="t" style="left:249.1px;top:227.6px;width:40px;margin-left:-20px;text-align:center">6</div>
<div class="t" style="left:296.5px;top:227.6px;width:40px;margin-left:-20px;text-align:center">6.05</div>
<div class="t" style="left:343.8px;top:227.6px;width:40px;margin-left:-20px;text-align:center">6.1</div>
<div class="t" style="left:180.6px;top:245.4px;width:40px;text-align:center"><span class="sy">&beta;</span></div>
<div class="t" style="left:50.3px;top:18.6px;transform:scaleX(1.035);transform-origin:0 50%"><span class="sy" style="margin-right:0.6px">&chi;</span><span class="sub" style="font-size:9.8px;top:3.1px">q,disc</span>/T<span class="sup" style="font-size:10.2px;top:-5.9px">2</span></div>
<div class="t" style="right:81.1px;top:19.5px"><span class="pre">m<span class="sub">q</span><span class="eq">=</span></span><span class="dig">0.0075</span></div>
<div class="t" style="right:81.1px;top:38.2px"><span class="pre">m<span class="sub">q</span><span class="eq">=</span></span><span class="dig">0.00375</span></div>
<div class="t" style="right:81.1px;top:57.0px"><span class="pre">m<span class="sub">q</span><span class="eq">=</span></span><span class="dig">0.0025</span></div>
<div class="t" style="right:81.1px;top:75.7px"><span class="pre">m<span class="sub">q</span><span class="eq">=</span></span><span class="dig">0.001875</span></div>
<div class="t" style="right:81.1px;top:94.5px"><span class="pre">m<span class="sub">q</span><span class="eq">=</span></span><span class="dig">0.00125</span></div>
<div class="t" style="right:81.1px;top:113.2px"><span class="pre">m<span class="sub">q</span><span class="eq">=</span></span><span class="dig">0.0009375</span></div>
</body></html>
